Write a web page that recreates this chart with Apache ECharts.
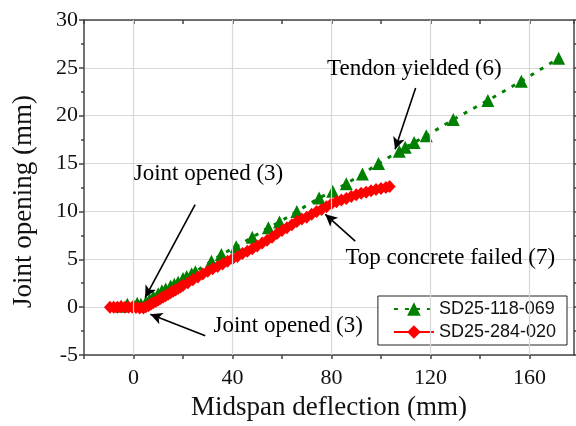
<!DOCTYPE html>
<html>
<head>
<meta charset="utf-8">
<script src="https://cdn.jsdelivr.net/npm/echarts@6/dist/echarts.min.js"></script>
<style>html,body{margin:0;padding:0;background:#fff}#c{width:576px;height:426px}</style>
</head>
<body>
<div id="c"></div>
<script>
var seriesNames = ['SD25-118-069', 'SD25-284-020'];
var greenX = [-5, -2.5, 0, 1.5, 3, 5, 6.5, 8, 10, 11.5, 13, 15, 16.5, 18, 20, 21.5, 23.5, 25, 31.5, 35.5, 41.5, 48, 54.5, 59, 66, 75, 80.5, 86, 92.5, 99, 107.4, 109.8, 113.4, 118.3, 129.2, 143.2, 156.7, 171.8];
var greenY = [0.1, 0.3, 0.2, 0.4, 0.3, 0.5, 0.8, 1.1, 1.4, 1.7, 1.9, 2.2, 2.4, 2.6, 3.0, 3.2, 3.5, 3.7, 4.8, 5.5, 6.3, 7.3, 8.3, 8.9, 10.0, 11.4, 12.1, 12.9, 13.9, 15.0, 16.3, 16.7, 17.2, 17.9, 19.6, 21.6, 23.6, 26.0];
var redX = [-9.5, -8, -6.5, -5, -3.5, -2, -0.5, 1, 2.5, 4, 5, 6, 7, 8, 9, 10, 11, 12, 13, 14, 15, 16, 17, 18, 19, 20, 22, 24, 26, 28, 30, 32, 34, 36, 38, 40, 42, 44, 46, 48, 50, 52, 54, 56, 58, 60, 62, 64, 66, 68, 70, 72, 74, 76, 78, 80, 82, 84, 86, 88, 90, 92, 94, 96, 98, 100, 102, 103.5];
var redY = [0, 0, 0, 0.05, 0, 0, 0, -0.05, -0.1, -0.1, 0.05, 0.15, 0.3, 0.45, 0.6, 0.75, 0.9, 1.05, 1.2, 1.35, 1.5, 1.65, 1.8, 1.95, 2.1, 2.25, 2.55, 2.85, 3.15, 3.45, 3.75, 4.0, 4.25, 4.5, 4.8, 5.05, 5.3, 5.6, 5.85, 6.1, 6.4, 6.7, 7.0, 7.3, 7.7, 8.0, 8.3, 8.6, 8.95, 9.2, 9.4, 9.7, 10.0, 10.2, 10.5, 10.8, 11.0, 11.2, 11.35, 11.55, 11.75, 11.9, 12.0, 12.15, 12.3, 12.4, 12.5, 12.6];
var xGridValues = [0, 40, 80, 120, 160];
var annotTexts = ['Tendon yielded (6)', 'Joint opened (3)', 'Joint opened (3)', 'Top concrete failed (7)'];
var annotTextPos = [[113.5, 24.9], [30.3, 13.9], [62.5, -1.95], [128, 5.1]];
var arrowFrom = [[114.0, 22.9], [24.9, 10.7], [29.0, -3.0], [89.6, 6.9]];
var arrowTo = [[105.7, 16.5], [4.7, 1.0], [6.8, -0.75], [77.5, 9.7]];

function zip(a, b) { return a.map(function (v, i) { return [v, b[i]]; }); }

var serif = 'Liberation Serif';
var chart = echarts.init(document.getElementById('c'));
var axisLineStyle = { color: '#444', width: 1.5 };
var option = {
  animation: false,
  grid: { left: 84, top: 20, right: 2, bottom: 70, show: false },
  legend: {
    data: seriesNames,
    orient: 'vertical',
    right: 9,
    bottom: 81,
    backgroundColor: '#fff',
    borderColor: '#222',
    borderWidth: 1,
    borderRadius: 0,
    padding: [4, 11, 4, 15],
    itemGap: 5,
    itemWidth: 40,
    itemHeight: 17,
    textStyle: { fontFamily: 'Liberation Sans', fontSize: 18, color: '#111' }
  },
  xAxis: [{
    type: 'value', min: -20, max: 178, interval: 20,
    name: 'Midspan deflection (mm)', nameLocation: 'middle', nameGap: 39,
    nameTextStyle: { fontFamily: serif, fontSize: 27, color: '#111' },
    axisLine: { show: true, onZero: false, lineStyle: axisLineStyle },
    axisTick: { show: true, length: 4, lineStyle: axisLineStyle },
    axisLabel: {
      margin: 12, fontFamily: serif, fontSize: 22, color: '#111',
      showMaxLabel: false,
      formatter: function (v) { return (v % 40 === 0) ? String(v) : ''; }
    },
    splitLine: { show: false }
  }, {
    type: 'value', min: -20, max: 178, interval: 20, position: 'top',
    axisLine: { show: true, onZero: false, lineStyle: axisLineStyle },
    axisTick: { show: true, inside: true, length: 4, lineStyle: axisLineStyle },
    axisLabel: { show: false }, splitLine: { show: false }
  }],
  yAxis: [{
    type: 'value', min: -5, max: 30, interval: 5,
    name: 'Joint opening (mm)', nameLocation: 'middle', nameGap: 47,
    nameTextStyle: { fontFamily: serif, fontSize: 27, color: '#111', padding: [0, 28, 0, 0] },
    axisLine: { show: true, onZero: false, lineStyle: axisLineStyle },
    axisTick: { show: true, length: 5, lineStyle: axisLineStyle },
    minorTick: { show: true, splitNumber: 2, length: 3, lineStyle: axisLineStyle },
    axisLabel: { margin: 6, fontFamily: serif, fontSize: 22, color: '#111' },
    splitLine: { show: true, lineStyle: { color: '#d8d8d8', width: 1.2 } }
  }, {
    type: 'value', min: -5, max: 30, interval: 5, position: 'right',
    axisLine: { show: true, onZero: false, lineStyle: axisLineStyle },
    axisTick: { show: true, length: 4, lineStyle: axisLineStyle },
    minorTick: { show: true, splitNumber: 2, length: 2, lineStyle: axisLineStyle },
    axisLabel: { show: false }, splitLine: { show: false }
  }],
  series: [{
    name: '_grid', type: 'line', data: [], z: 1, silent: true,
    markLine: {
      silent: true, symbol: ['none', 'none'], label: { show: false },
      lineStyle: { color: '#d8d8d8', width: 1.2, type: 'solid' },
      data: xGridValues.map(function (v) { return { xAxis: v }; })
    }
  }, {
    name: seriesNames[0], type: 'line', data: zip(greenX, greenY), z: 3,
    color: '#008000',
    symbol: 'triangle', symbolSize: 13,
    itemStyle: { color: '#008000' },
    lineStyle: { color: '#008000', width: 3, type: [4, 7] }
  }, {
    name: seriesNames[1], type: 'line', data: zip(redX, redY), z: 4,
    color: '#ff0000',
    symbol: 'diamond', symbolSize: [12, 13],
    itemStyle: { color: '#ff0000' },
    lineStyle: { color: '#ff0000', width: 2.5 }
  }, {
    name: '_annot', type: 'line', data: [], z: 5, silent: true,
    markLine: {
      silent: true, symbol: ['none', 'arrow'], symbolSize: [9, 12],
      label: { show: false },
      lineStyle: { color: '#000', width: 1.6, type: 'solid' },
      data: arrowFrom.map(function (p, i) { return [{ coord: p }, { coord: arrowTo[i] }]; })
    },
    markPoint: {
      silent: true, symbol: 'circle', symbolSize: 0,
      label: { show: true, position: 'inside', fontFamily: serif, fontSize: 23, color: '#000' },
      data: annotTexts.map(function (t, i) { return { coord: annotTextPos[i], value: t, label: { formatter: t } }; })
    }
  }]
};
chart.setOption(option);
</script>
</body>
</html>
